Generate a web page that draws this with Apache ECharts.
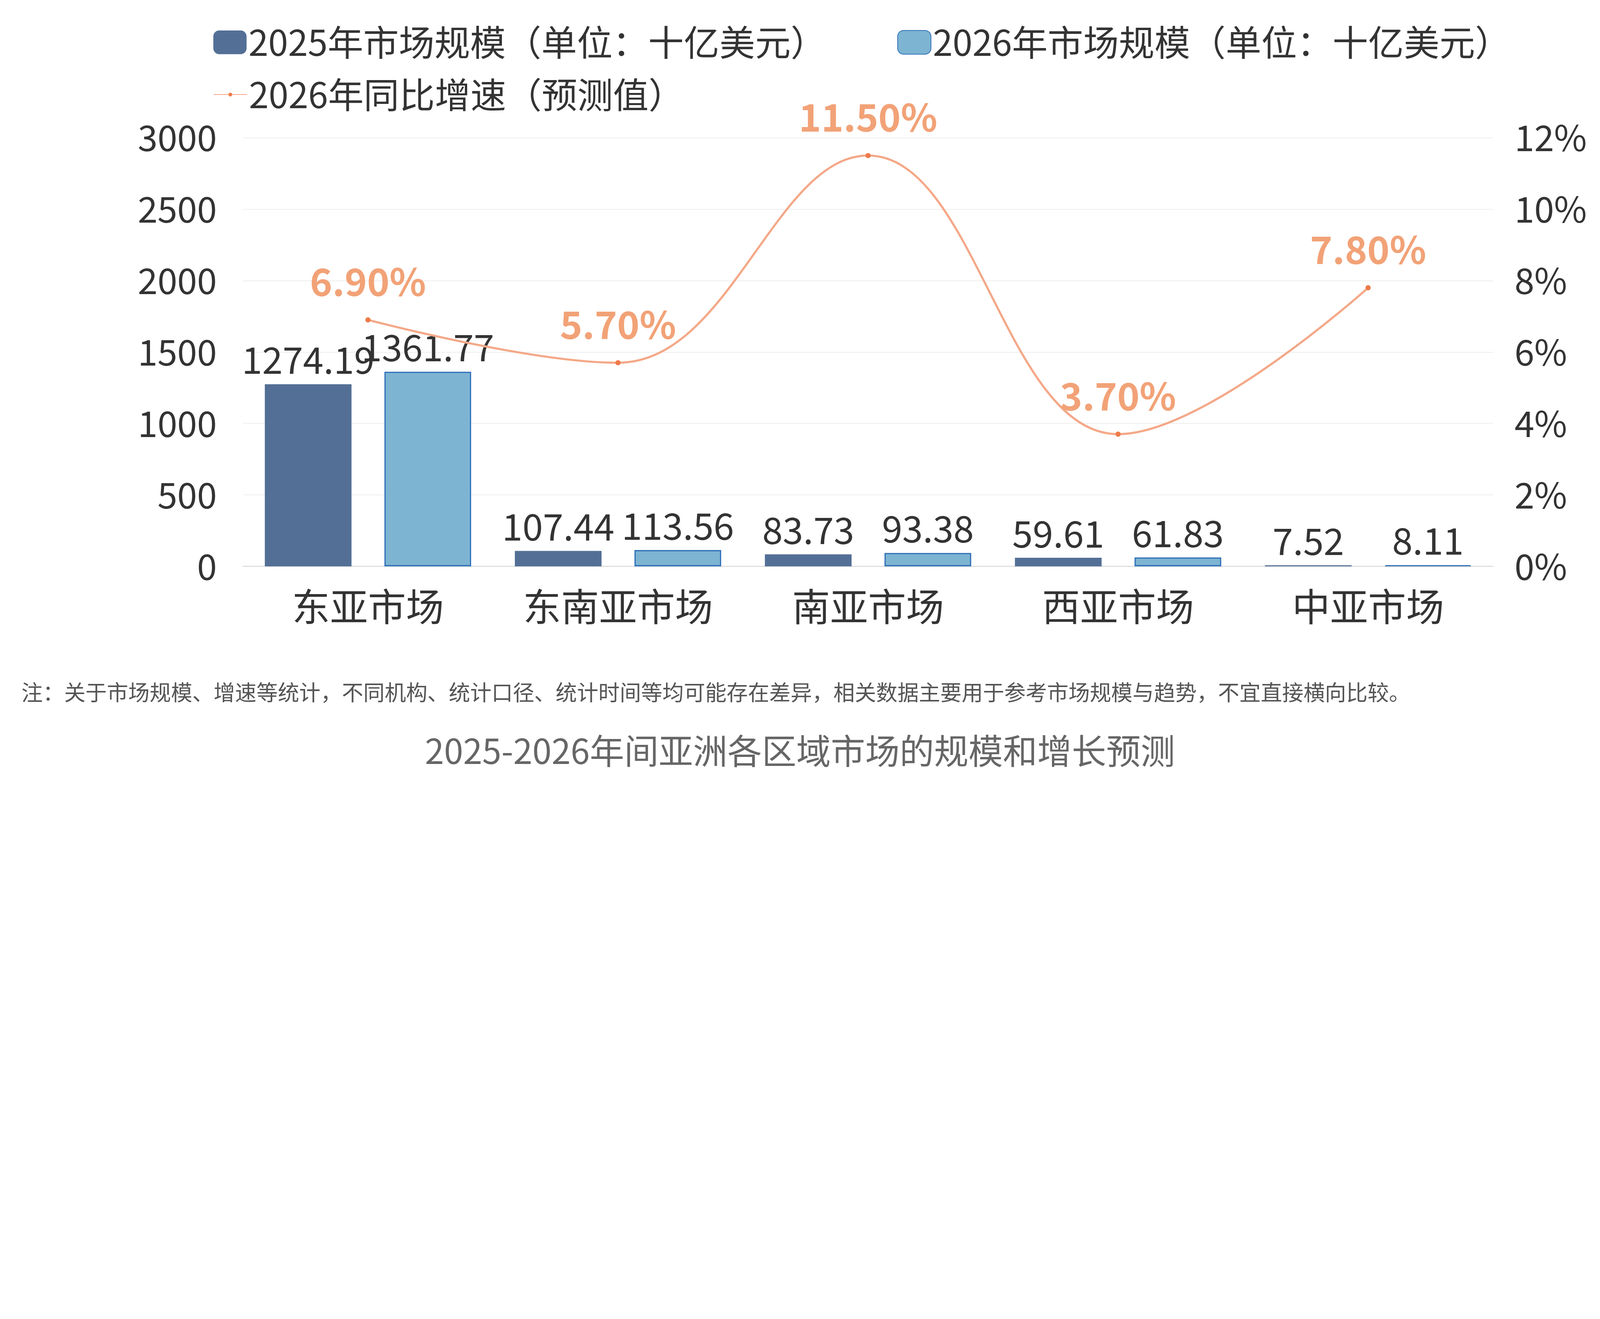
<!DOCTYPE html>
<html><head><meta charset="utf-8">
<script src="https://cdn.jsdelivr.net/npm/echarts@6/dist/echarts.min.js"></script>
<style>html,body{margin:0;padding:0;background:#fff;overflow:hidden}</style>
</head><body><div id="c"></div>
<script>
const categories=['东亚市场','东南亚市场','南亚市场','西亚市场','中亚市场'];
const size2025=[1274.19,107.44,83.73,59.61,7.52];
const size2026=[1361.77,113.56,93.38,61.83,8.11];
const growth2026=[6.9,5.7,11.5,3.7,7.8];
const leftTicks=[0,500,1000,1500,2000,2500,3000];
const F='"Noto Sans CJK SC","Noto Sans",sans-serif';
const s=window.innerWidth/6737;
const k=v=>v*s;
const el=document.getElementById('c');
el.style.width=window.innerWidth+'px';
el.style.height=Math.round(3377*s)+'px';
const chart=echarts.init(el);
const legendBase={itemWidth:k(140),itemHeight:k(100),itemGap:k(60),textStyle:{fontSize:k(150),color:'#333',fontFamily:F}};
chart.setOption({
  animation:false,
  textStyle:{fontFamily:F},
  legend:[
    Object.assign({left:k(890),top:k(95),data:['2025年市场规模（单位：十亿美元）']},legendBase),
    Object.assign({left:k(3770),top:k(95),data:['2026年市场规模（单位：十亿美元）']},legendBase),
    Object.assign({left:k(890),top:k(315),data:['2026年同比增速（预测值）']},legendBase,{itemHeight:k(20)})
  ],
  grid:{left:k(1023),right:k(450),top:k(580),bottom:k(992)},
  xAxis:{type:'category',data:categories,axisTick:{show:false},
    axisLine:{lineStyle:{color:'#d9d9d9',width:k(4)}},
    axisLabel:{interval:0,fontSize:k(160),color:'#333',margin:k(90)}},
  yAxis:[
    {type:'value',min:0,max:3000,interval:500,
     axisLabel:{fontSize:k(150),color:'#333',margin:k(110),formatter:v=>String(v)},
     splitLine:{lineStyle:{color:'#eeeeee',width:k(3)}}},
    {type:'value',min:0,max:12,interval:2,
     axisLabel:{fontSize:k(150),color:'#333',margin:k(90),formatter:'{value}%'},
     splitLine:{show:false}}
  ],
  series:[
    {name:'2025年市场规模（单位：十亿美元）',type:'bar',data:size2025,barWidth:k(365),barGap:'38%',
     itemStyle:{color:'#536f96'},
     label:{show:true,position:'top',fontSize:k(155),color:'#333',distance:k(25)}},
    {name:'2026年市场规模（单位：十亿美元）',type:'bar',data:size2026,barWidth:k(365),
     itemStyle:{color:'#7db4d2',borderColor:'#2e6fb8',borderWidth:k(5)},
     label:{show:true,position:'top',fontSize:k(155),color:'#333',distance:k(25)}},
    {name:'2026年同比增速（预测值）',type:'line',yAxisIndex:1,data:growth2026,smooth:0.4,
     symbol:'circle',symbolSize:k(22),
     lineStyle:{color:'#f4a888',width:k(9)},itemStyle:{color:'#ee7b4a'},
     label:{show:true,position:'top',distance:k(70),fontSize:k(160),fontWeight:'bold',color:'#f2a277',
       formatter:p=>p.value.toFixed(2)+'%'}}
  ],
  graphic:[
    {type:'text',left:k(90),top:k(2870),style:{text:'注：关于市场规模、增速等统计，不同机构、统计口径、统计时间等均可能存在差异，相关数据主要用于参考市场规模与趋势，不宜直接横向比较。',fontSize:k(90),fill:'#555',fontFamily:F}},
    {type:'text',left:'center',top:k(3090),style:{text:'2025-2026年间亚洲各区域市场的规模和增长预测',fontSize:k(145),fill:'#666',fontFamily:F}}
  ]
});
</script></body></html>
